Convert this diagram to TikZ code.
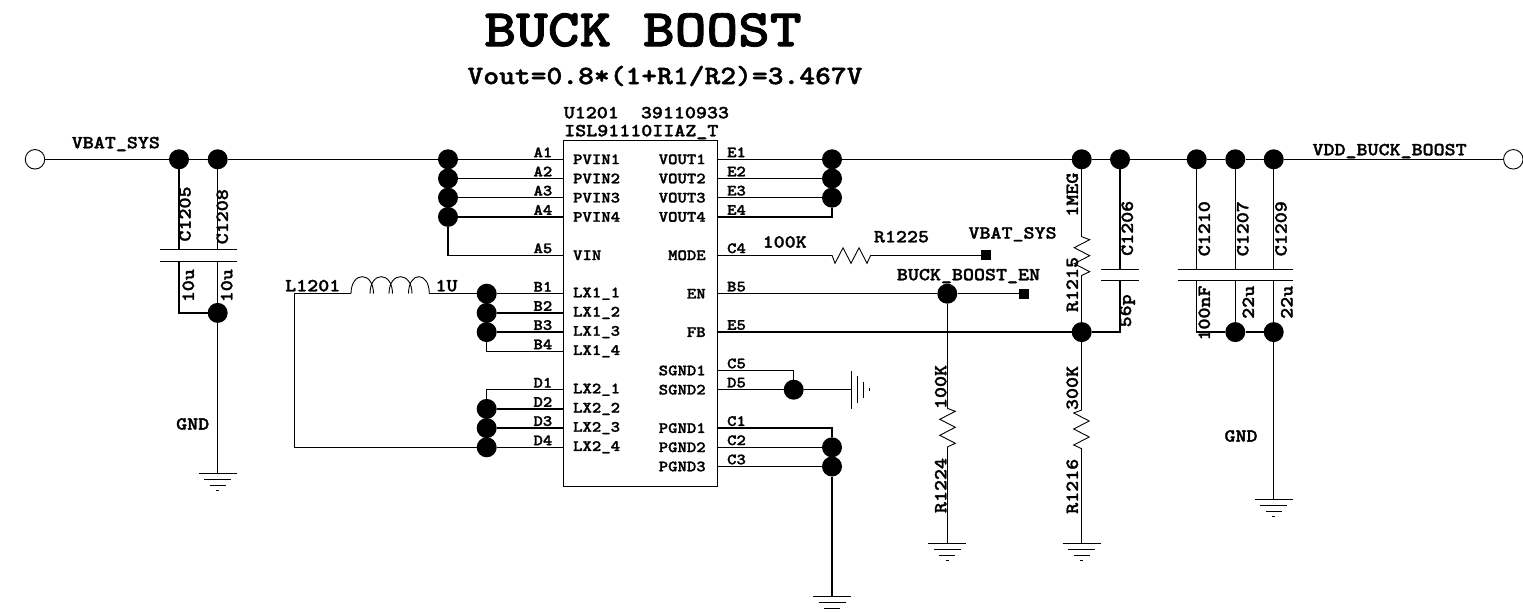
\documentclass[tikz,border=0pt]{standalone}
\usepackage{fontspec}
\newfontfamily\schfont[FakeStretch=1.14,FakeBold=1.6]{lmmonolt10-bold.otf}
\usetikzlibrary{positioning}
\tikzset{wire/.style = {draw, line width=1.3pt}}
\tikzset{thin-wire/.style = {draw, line width=0.9pt}}
\tikzset{schtext/.style =
   {inner sep=0pt,
    font=\schfont\fontsize{18.4}{20}\selectfont}}
\tikzset{pintext/.style =
   {inner sep=0pt,
    font=\schfont\fontsize{15.7}{17}\selectfont}}
\tikzset{vtext/.style = {schtext, rotate=90}}
\tikzset{dot/.style =
   {circle,
    fill=black,
    inner sep=0pt,
    minimum size=20pt}}
\tikzset{port/.style =
   {circle,
    draw,
    fill=white,
    line width=0.9pt,
    inner sep=0pt,
    minimum size=19.5pt}}
\tikzset{pad/.style =
   {rectangle,
    fill=black,
    inner sep=0pt,
    minimum size=10pt}}
\tikzset{lpin/.style 2 args={inner sep=0pt,
    minimum size=0pt,
    label={[pintext, xshift=-10.6pt, yshift=7pt]west:#1},
    label={[pintext, xshift=9.4pt]east:#2}}}
\tikzset{rpin/.style 2 args={inner sep=0pt,
    minimum size=0pt,
    label={[pintext, xshift=10pt, yshift=7pt]east:#1},
    label={[pintext, xshift=-10.6pt]west:#2}}}
\tikzset{res/.pic = {
    \draw [thin-wire] (0,0) -- (3,8) -- (11,-7.5) -- (19,8) -- (27,-7.5)
        -- (35,8) -- (38.7,0);}}
\tikzset{gnd/.pic = {
    \draw [thin-wire] (-19,0) -- (19,0);
    \draw [thin-wire] (-13.5,6) -- (13.5,6);
    \draw [thin-wire] (-8,12) -- (8,12);
    \draw [thin-wire] (-1.5,17.5) -- (1.5,17.5);}}

\begin{document}
\begin{tikzpicture}[x=1pt, y=-1pt]

    \useasboundingbox (0,0) rectangle (1523,612);

    \node [schtext, font=\schfont\fontsize{53}{55}\selectfont]
        (title) at (643,30) {BUCK BOOST};
    \node [schtext, font=\schfont\fontsize{26.4}{28}\selectfont]
        (formula) at (665,76) {Vout=0.8*(1+R1/R2)=3.467V};

    \node [draw, line width=1pt, inner sep=0pt, anchor=north west,
           minimum width=153.4pt, minimum height=345.7pt]
        (u1201) at (563.3,140) {};
    \node [schtext, anchor=west] (u1201name) at (563.6,112.7)
        {U1201\ \ 39110933};
    \node [schtext, anchor=west] (u1201part) at (564,132)
        {ISL91110IIAZ\_T};

    \node [lpin={A1}{PVIN1}] (a1) at (563.3,159.3) {};
    \node [lpin={A2}{PVIN2}] (a2) at (563.3,178.5) {};
    \node [lpin={A3}{PVIN3}] (a3) at (563.3,197.7) {};
    \node [lpin={A4}{PVIN4}] (a4) at (563.3,216.9) {};
    \node [lpin={A5}{VIN}] (a5) at (563.3,255.3) {};
    \node [lpin={B1}{LX1\_1}] (b1) at (563.3,293.7) {};
    \node [lpin={B2}{LX1\_2}] (b2) at (563.3,312.9) {};
    \node [lpin={B3}{LX1\_3}] (b3) at (563.3,332.1) {};
    \node [lpin={B4}{LX1\_4}] (b4) at (563.3,351.3) {};
    \node [lpin={D1}{LX2\_1}] (d1) at (563.3,389.7) {};
    \node [lpin={D2}{LX2\_2}] (d2) at (563.3,408.9) {};
    \node [lpin={D3}{LX2\_3}] (d3) at (563.3,428.1) {};
    \node [lpin={D4}{LX2\_4}] (d4) at (563.3,447.3) {};

    \node [rpin={E1}{VOUT1}] (e1) at (716.7,159.3) {};
    \node [rpin={E2}{VOUT2}] (e2) at (716.7,178.5) {};
    \node [rpin={E3}{VOUT3}] (e3) at (716.7,197.7) {};
    \node [rpin={E4}{VOUT4}] (e4) at (716.7,216.9) {};
    \node [rpin={C4}{MODE}] (c4) at (716.7,255.3) {};
    \node [rpin={B5}{EN}] (b5) at (716.7,293.7) {};
    \node [rpin={E5}{FB}] (e5) at (716.7,332.1) {};
    \node [rpin={C5}{SGND1}] (c5) at (716.7,370.5) {};
    \node [rpin={D5}{SGND2}] (d5) at (716.7,389.7) {};
    \node [rpin={C1}{PGND1}] (c1) at (716.7,428.1) {};
    \node [rpin={C2}{PGND2}] (c2) at (716.7,447.3) {};
    \node [rpin={C3}{PGND3}] (c3) at (716.7,466.5) {};

    \node [port] (vbatport) at (35,159.3) {};
    \node [dot] (vbat1) at (179,159.3) {};
    \node [dot] (vbat2) at (217.7,159.3) {};
    \node [dot] (ja1) at (448,159.3) {};
    \node [dot] (ja2) at (448,178.5) {};
    \node [dot] (ja3) at (448,197.7) {};
    \node [dot] (ja4) at (448,216.9) {};
    \node [dot] (jb1) at (486.7,293.7) {};
    \node [dot] (jb2) at (486.7,312.9) {};
    \node [dot] (jb3) at (486.7,332.1) {};
    \node [dot] (jd2) at (486.7,408.9) {};
    \node [dot] (jd3) at (486.7,428.1) {};
    \node [dot] (jd4) at (486.7,447.3) {};
    \node [dot] (incap) at (217.7,312.9) {};

    \node [dot] (je1) at (832,159.3) {};
    \node [dot] (je2) at (832,178.5) {};
    \node [dot] (je3) at (832,197.7) {};
    \node [dot] (jen) at (947.3,293.7) {};
    \node [dot] (jsgnd) at (793.7,389.7) {};
    \node [dot] (jc2) at (832,447.3) {};
    \node [dot] (jc3) at (832,466.5) {};
    \node [dot] (out1) at (1081.7,159.3) {};
    \node [dot] (out2) at (1120,159.3) {};
    \node [dot] (out3) at (1196.7,159.3) {};
    \node [dot] (out4) at (1235.3,159.3) {};
    \node [dot] (out5) at (1273.7,159.3) {};
    \node [dot] (jfb) at (1081.7,332.1) {};
    \node [dot] (outcap1) at (1235.3,332.1) {};
    \node [dot] (outcap2) at (1273.7,332.1) {};
    \node [port] (vddport) at (1513.3,159.3) {};
    \node [pad] (vbatpad) at (985.7,255.3) {};
    \node [pad] (enpad) at (1024,293.7) {};

    \coordinate (c1205t) at (179,249.3);
    \coordinate (c1205b) at (179,261);
    \coordinate (c1208t) at (217.7,249.3);
    \coordinate (c1208b) at (217.7,261);
    \coordinate (c1206t) at (1120,269);
    \coordinate (c1206b) at (1120,280.3);
    \coordinate (c1210t) at (1196.7,269);
    \coordinate (c1210b) at (1196.7,280.3);
    \coordinate (c1207t) at (1235.3,269);
    \coordinate (c1207b) at (1235.3,280.3);
    \coordinate (c1209t) at (1273.7,269);
    \coordinate (c1209b) at (1273.7,280.3);
    \coordinate (l1201a) at (351,293.7);
    \coordinate (l1201b) at (429.3,293.7);
    \coordinate (lcorner) at (294.7,293.7);
    \coordinate (d1corner) at (486.7,389.7);
    \coordinate (c5corner) at (793.7,370.5);
    \coordinate (c1corner) at (832,428.1);
    \coordinate (r1225a) at (832,255.3);
    \coordinate (r1225b) at (870.7,255.3);
    \coordinate (r1224a) at (947.3,408.3);
    \coordinate (r1224b) at (947.3,447);
    \coordinate (r1215a) at (1081.7,236.7);
    \coordinate (r1215b) at (1081.7,275.4);
    \coordinate (r1216a) at (1081.7,410);
    \coordinate (r1216b) at (1081.7,448.7);
    \coordinate (gndin) at (217.7,473.3);
    \coordinate (gndsgnd) at (851.7,389.7);
    \coordinate (gndpgnd) at (832,596);
    \coordinate (gndr1224) at (947.3,543.3);
    \coordinate (gndr1216) at (1081.7,543.3);
    \coordinate (gndout) at (1273.7,499.3);

    \draw [wire] (vbatport) -- (vbat1) -- (vbat2) -- (ja1) -- (a1);
    \draw [wire] (ja2) -- (a2);
    \draw [wire] (ja3) -- (a3);
    \draw [wire] (ja4) -- (a4);
    \draw [wire] (ja4) |- (a5);
    \draw [wire] (jb1) -- (b1);
    \draw [wire] (jb2) -- (b2);
    \draw [wire] (jb3) -- (b3);
    \draw [wire] (jb3) |- (b4);
    \draw [wire] (d1) -- (d1corner) -- (jd2);
    \draw [wire] (jd2) -- (d2);
    \draw [wire] (jd3) -- (d3);
    \draw [wire] (jd4) -- (d4);
    \draw [wire] (l1201a) -- (lcorner) -- (lcorner |- jd4) -- (jd4);
    \draw [wire] (l1201b) -- (jb1);

    \draw [wire] (e1) -- (je1) -- (out1) -- (out2) -- (out3) -- (out4)
        -- (out5) -- (vddport);
    \draw [wire] (e2) -- (je2);
    \draw [wire] (e3) -- (je3);
    \draw [wire] (je3) |- (e4);
    \draw [wire] (c4) -- (r1225a);
    \draw [wire] (r1225b) -- (vbatpad);
    \draw [wire] (b5) -- (jen) -- (enpad);
    \draw [wire] (e5) -- (jfb);
    \draw [wire] (c5) -- (c5corner) -- (jsgnd);
    \draw [wire] (d5) -- (jsgnd) -- (gndsgnd);
    \draw [wire] (c1) -- (c1corner) -- (jc2) -- (jc3) -- (gndpgnd);
    \draw [wire] (c2) -- (jc2);
    \draw [wire] (c3) -- (jc3);

    \draw [wire] (jen) -- (r1224a);
    \draw [wire] (r1224b) -- (gndr1224);
    \draw [wire] (out1) -- (r1215a);
    \draw [wire] (r1215b) -- (jfb) -- (r1216a);
    \draw [wire] (r1216b) -- (gndr1216);
    \draw [wire] (jfb) -| (c1206b);
    \draw [wire] (out2) -- (c1206t);

    \draw [wire] (vbat1) -- (c1205t);
    \draw [wire] (vbat2) -- (c1208t);
    \draw [wire] (c1205b) |- (incap);
    \draw [wire] (c1208b) -- (incap) -- (gndin);
    \draw [wire] (out3) -- (c1210t);
    \draw [wire] (out4) -- (c1207t);
    \draw [wire] (out5) -- (c1209t);
    \draw [wire] (c1210b) |- (outcap1);
    \draw [wire] (c1207b) -- (outcap1) -- (outcap2);
    \draw [wire] (c1209b) -- (outcap2) -- (gndout);

    \draw [thin-wire] (160,249.3) -- (236.7,249.3);
    \draw [thin-wire] (160,261) -- (236.7,261);
    \draw [thin-wire] (1101,269) -- (1139.3,269);
    \draw [thin-wire] (1101,280.3) -- (1139.3,280.3);
    \draw [thin-wire] (1177.7,269) -- (1293,269);
    \draw [thin-wire] (1177.7,280.3) -- (1293,280.3);

    \draw [thin-wire] (l1201a) .. controls (351,271) and (373.5,271) .. (373.5,293.7)
        (370,293.7) .. controls (370,271) and (392.5,271) .. (392.5,293.7)
        (389,293.7) .. controls (389,271) and (412,271) .. (412,293.7)
        (408.5,293.7) .. controls (408.5,271) and (429.3,271) .. (l1201b);

    \pic at (r1225a) {res};
    \pic [rotate=-90, yscale=-1] at (r1224a) {res};
    \pic [rotate=-90, yscale=-1] at (r1215a) {res};
    \pic [rotate=-90] at (r1216a) {res};

    \pic at (gndin) {gnd};
    \pic [rotate=90] at (gndsgnd) {gnd};
    \pic at (gndpgnd) {gnd};
    \pic at (gndr1224) {gnd};
    \pic at (gndr1216) {gnd};
    \pic at (gndout) {gnd};

    \node [schtext, anchor=west] (vbatlabel) at (71.6,144) {VBAT\_SYS};
    \node [schtext, anchor=west] (vddlabel) at (1312.3,151) {VDD\_BUCK\_BOOST};
    \node [schtext] (gndleft) at (192.7,424) {GND};
    \node [schtext] (gndright) at (1241,436) {GND};
    \node [schtext, anchor=west] (l1201name) at (285,285.7) {L1201};
    \node [schtext, anchor=west] (l1201val) at (435.3,285.7) {1U};
    \node [schtext] (r1225val) at (784.7,242) {100K};
    \node [schtext] (r1225name) at (901.5,236.7) {R1225};
    \node [schtext, anchor=west] (modenet) at (968.3,234.3) {VBAT\_SYS};
    \node [schtext, anchor=west] (ennet) at (896.7,276) {BUCK\_BOOST\_EN};

    \node [vtext] (c1205name) at (185,214) {C1205};
    \node [vtext] (c1208name) at (222.3,216.7) {C1208};
    \node [vtext] (c1205val) at (188.3,285.7) {10u};
    \node [vtext] (c1208val) at (226.7,285.7) {10u};
    \node [vtext] (r1224val) at (940.7,387) {100K};
    \node [vtext] (r1224name) at (940.7,485.5) {R1224};
    \node [vtext] (r1215val) at (1072.3,194.7) {1MEG};
    \node [vtext] (r1215name) at (1072.3,284.5) {R1215};
    \node [vtext] (r1216val) at (1072.3,388) {300K};
    \node [vtext] (r1216name) at (1072.3,486.3) {R1216};
    \node [vtext] (c1206name) at (1127.3,228.3) {C1206};
    \node [vtext] (c1206val) at (1127.3,310.8) {56p};
    \node [vtext] (c1210name) at (1204.3,228.7) {C1210};
    \node [vtext] (c1207name) at (1242.7,228.7) {C1207};
    \node [vtext] (c1209name) at (1281,228.7) {C1209};
    \node [vtext] (c1210val) at (1204.3,313) {100nF};
    \node [vtext] (c1207val) at (1248.3,302.3) {22u};
    \node [vtext] (c1209val) at (1286.7,302.3) {22u};

\end{tikzpicture}
\end{document}
